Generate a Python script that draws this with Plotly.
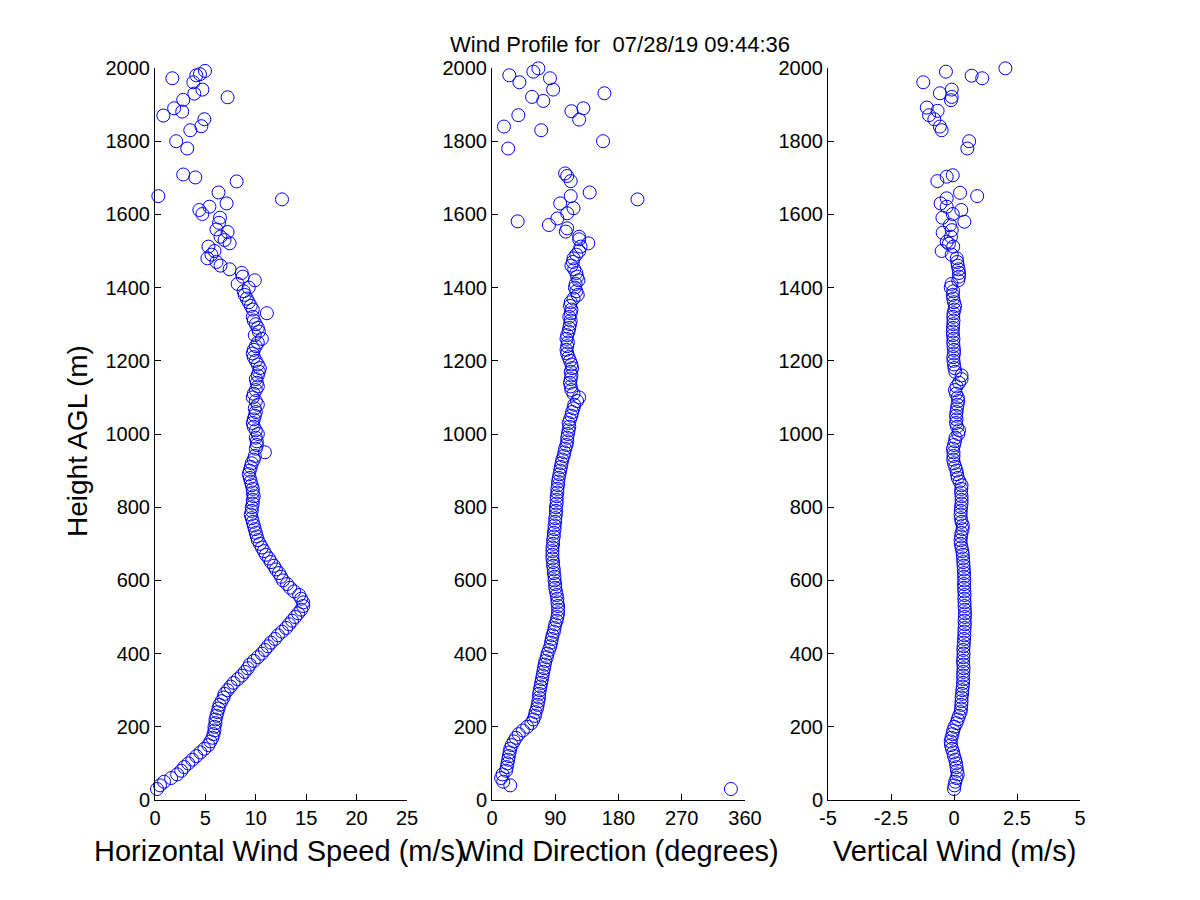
import plotly.graph_objects as go

# range-gate heights (m AGL) for the dense part of the profile
heights = [
    30, 40, 50, 60, 70, 80, 90, 100, 110, 120,
    130, 140, 150, 160, 170, 180, 190, 200, 210, 220,
    230, 240, 250, 260, 270, 280, 290, 300, 310, 320,
    330, 340, 350, 360, 370, 380, 390, 400, 410, 420,
    430, 440, 450, 460, 470, 480, 490, 500, 510, 520,
    530, 540, 550, 560, 570, 580, 590, 600, 610, 620,
    630, 640, 650, 660, 670, 680, 690, 700, 710, 720,
    730, 740, 750, 760, 770, 780, 790, 800, 810, 820,
    830, 840, 850, 860, 870, 880, 890, 900, 910, 920,
    930, 940, 950, 960, 970, 980, 990, 1000, 1010, 1020,
    1030, 1040, 1050, 1060, 1070, 1080, 1090, 1100, 1110, 1120,
    1130, 1140, 1150, 1160, 1170, 1180, 1190, 1200, 1210, 1220,
    1230, 1240, 1250, 1260, 1270, 1280, 1290, 1300, 1310, 1320,
    1330, 1340, 1350, 1360, 1370, 1380, 1390, 1400, 1410, 1420,
    1430, 1440, 1450, 1460, 1470, 1480, 1490, 1500,
]

# horizontal wind speed (m/s)
speed = [
    0.2, 0.5, 0.9, 1.6, 2.2, 2.6, 2.9, 3.3, 3.7, 4.1,
    4.5, 4.9, 5.3, 5.5, 5.7, 5.8, 5.9, 5.9, 6.0, 6.0,
    6.1, 6.2, 6.3, 6.4, 6.6, 6.8, 6.9, 7.2, 7.5, 7.8,
    8.2, 8.6, 8.9, 9.2, 9.4, 9.8, 10.2, 10.6, 10.9, 11.2,
    11.5, 11.9, 12.2, 12.6, 13.0, 13.3, 13.6, 13.9, 14.2, 14.5,
    14.7, 14.7, 14.5, 14.3, 13.8, 13.4, 13.1, 12.7, 12.5, 12.3,
    12.0, 11.8, 11.5, 11.3, 11.0, 10.8, 10.6, 10.4, 10.2, 10.1,
    10.0, 9.9, 9.8, 9.7, 9.6, 9.5, 9.6, 9.6, 9.7, 9.7,
    9.8, 9.7, 9.7, 9.6, 9.5, 9.4, 9.3, 9.4, 9.5, 9.6,
    9.8, 9.9, 10.9, 10.0, 10.1, 10.1, 10.0, 10.2, 10.0, 9.8,
    9.7, 9.8, 9.9, 10.0, 9.9, 10.2, 10.0, 9.7, 9.8, 10.0,
    10.2, 10.1, 10.0, 10.2, 10.3, 10.4, 10.2, 10.0, 9.8, 9.7,
    9.8, 10.0, 10.2, 10.6, 9.9, 10.3, 10.2, 10.0, 9.8, 9.7,
    11.1, 9.7, 9.5, 9.3, 9.1, 8.9, 8.8, 9.3, 8.2, 9.9,
    8.7, 8.6, 7.4, 6.5, 6.1, 5.2, 5.6, 5.9,
]

# wind direction (degrees)
direction = [
    340, 26, 16, 13, 15, 20, 21, 22, 23, 24,
    25, 26, 28, 31, 34, 38, 44, 50, 56, 59,
    61, 62, 64, 65, 66, 67, 67, 68, 69, 70,
    71, 72, 73, 74, 75, 76, 78, 79, 81, 83,
    84, 85, 86, 88, 89, 90, 92, 93, 94, 94,
    94, 93, 93, 92, 91, 90, 90, 89, 89, 88,
    88, 87, 87, 86, 86, 86, 86, 87, 87, 88,
    88, 89, 89, 90, 90, 91, 91, 91, 92, 92,
    92, 93, 93, 94, 94, 95, 96, 97, 98, 99,
    100, 102, 103, 104, 106, 107, 107, 108, 109, 110,
    109, 111, 113, 114, 116, 117, 121, 124, 116, 113,
    112, 111, 112, 113, 112, 114, 113, 111, 109, 107,
    106, 107, 108, 106, 107, 109, 110, 111, 112, 110,
    112, 113, 111, 112, 116, 122, 120, 118, 119, 123,
    121, 120, 117, 113, 115, 116, 120, 124,
]

# vertical wind (m/s)
vertical = [
    0.0, 0.02, 0.05, 0.1, 0.15, 0.12, 0.1, 0.08, 0.05, 0.0,
    -0.03, -0.08, -0.12, -0.13, -0.1, -0.06, -0.03, 0.02, 0.1, 0.15,
    0.2, 0.26, 0.28, 0.29, 0.3, 0.3, 0.32, 0.33, 0.35, 0.36,
    0.37, 0.36, 0.37, 0.38, 0.37, 0.36, 0.37, 0.38, 0.37, 0.38,
    0.39, 0.4, 0.41, 0.41, 0.42, 0.43, 0.42, 0.43, 0.44, 0.43,
    0.42, 0.42, 0.41, 0.42, 0.41, 0.4, 0.4, 0.41, 0.4, 0.4,
    0.39, 0.38, 0.37, 0.36, 0.35, 0.33, 0.3, 0.27, 0.26, 0.28,
    0.3, 0.34, 0.35, 0.3, 0.27, 0.26, 0.27, 0.28, 0.3, 0.3,
    0.3, 0.28, 0.29, 0.3, 0.22, 0.15, 0.12, 0.1, 0.05, 0.0,
    -0.03, -0.02, -0.02, -0.04, 0.0, 0.04, 0.06, 0.17, 0.2, 0.12,
    0.08, 0.1, 0.08, 0.1, 0.12, 0.14, 0.17, 0.15, 0.08, 0.04,
    0.1, 0.2, 0.3, 0.3, 0.05, 0.02, 0.0, -0.02, -0.03, 0.0,
    0.0, -0.02, -0.03, -0.02, -0.04, -0.05, -0.04, -0.03, -0.02, -0.03,
    -0.02, 0.02, 0.04, 0.0, -0.03, -0.05, -0.03, -0.13, -0.1, 0.17,
    0.2, 0.2, 0.18, 0.15, 0.13, 0.11, -0.09, -0.49,
]

# noisy points above 1500 m (each panel keeps its own valid gates)
speed_upper_h = [1512, 1521, 1530, 1539, 1552, 1559, 1577, 1591, 1601, 1612,
                 1621, 1630, 1641, 1650, 1660, 1690, 1701, 1709, 1780, 1800,
                 1830, 1841, 1860, 1870, 1881, 1890, 1913, 1920, 1930, 1941,
                 1961, 1972, 1980, 1983, 1992]
speed_upper = [5.3, 7.4, 6.9, 6.5, 7.2, 6.1, 6.35, 6.45, 4.7, 4.4,
               5.4, 7.1, 12.6, 0.33, 6.3, 8.1, 4.0, 2.8, 3.2, 2.1,
               3.5, 4.6, 4.9, 0.83, 2.7, 1.9, 2.8, 7.2, 3.9, 4.7,
               3.8, 1.72, 4.1, 4.46, 4.96]

dir_upper_h = [1512, 1521, 1532, 1539, 1553, 1562, 1571, 1581, 1589, 1603,
               1617, 1630, 1641, 1650, 1660, 1691, 1705, 1712, 1780, 1800,
               1830, 1840, 1859, 1871, 1882, 1890, 1910, 1921, 1931, 1941,
               1961, 1972, 1980, 1990, 1999]
dir_upper = [126, 137, 124, 124, 105, 107, 81, 36.5, 93, 107,
             116, 97, 207, 112, 139, 112, 107, 104, 23, 158,
             70, 17, 124, 37.5, 113, 130, 73, 57, 160, 87,
             39, 82.5, 24.6, 58.8, 66]

w_upper_h = [1512, 1520, 1525, 1539, 1550, 1557, 1571, 1580, 1591, 1601,
             1612, 1621, 1630, 1644, 1650, 1659, 1691, 1703, 1707, 1780,
             1800, 1830, 1840, 1860, 1871, 1883, 1892, 1912, 1921, 1931,
             1941, 1961, 1972, 1979, 1990, 1999]
w_upper = [-0.03, -0.2, -0.29, -0.12, -0.45, -0.09, -0.16, 0.41, -0.46, -0.05,
           0.29, -0.29, -0.53, -0.29, 0.92, 0.24, -0.66, -0.29, -0.05, 0.53,
           0.6, -0.49, -0.56, -0.78, -0.99, -0.65, -1.08, -0.12, -0.09, -0.56,
           -0.09, -1.22, 1.12, 0.7, -0.32, 2.04]

FONT = "Liberation Sans, Arial, Helvetica, sans-serif"
BLUE = "rgb(0,0,255)"
W, H = 1200, 900
OFF = 8  # page body margin pushes the figure right/down by this much


def px(x):
    return (x - OFF) / W


def py(y):
    return 1 - (y - OFF) / H


marker = dict(symbol="circle-open", size=13, color=BLUE, line=dict(width=1, color=BLUE))

fig = go.Figure()
panels = [
    (speed + speed_upper, heights + speed_upper_h, "x", "y"),
    (direction + dir_upper, heights + dir_upper_h, "x2", "y2"),
    (vertical + w_upper, heights + w_upper_h, "x3", "y3"),
]
for xs, ys, xa, ya in panels:
    fig.add_trace(go.Scatter(x=xs, y=ys, mode="markers", marker=marker,
                             xaxis=xa, yaxis=ya, cliponaxis=False,
                             showlegend=False, hoverinfo="x+y"))

axis_common = dict(showline=True, linecolor="black", linewidth=1, ticks="inside",
                   ticklen=6, tickcolor="black", showgrid=False, zeroline=False,
                   tickfont=dict(family=FONT, size=20, color="black"), mirror=False,
                   automargin=False)

x_domains = [[px(155), px(407)], [px(492), px(745)], [px(828), px(1080)]]
y_domain = [py(800), py(68)]

x_ranges = [[0, 25], [0, 360], [-5, 5]]
x_ticks = [
    ([0, 5, 10, 15, 20, 25], ["0", "5", "10", "15", "20", "25"]),
    ([0, 90, 180, 270, 360], ["0", "90", "180", "270", "360"]),
    ([-5, -2.5, 0, 2.5, 5], ["-5", "-2.5", "0", "2.5", "5"]),
]
y_ticks = [0, 200, 400, 600, 800, 1000, 1200, 1400, 1600, 1800, 2000]

layout = dict(
    width=W, height=H, autosize=False,
    paper_bgcolor="white", plot_bgcolor="white",
    margin=dict(l=0, r=0, t=0, b=0, pad=0, autoexpand=False),
    font=dict(family=FONT, color="black"),
)
for i in range(3):
    sfx = "" if i == 0 else str(i + 1)
    layout["xaxis" + sfx] = dict(axis_common, domain=x_domains[i], range=x_ranges[i],
                                 tickvals=x_ticks[i][0], ticktext=x_ticks[i][1],
                                 anchor="y" + sfx)
    layout["yaxis" + sfx] = dict(axis_common, domain=y_domain, range=[0, 2000],
                                 tickvals=y_ticks, anchor="x" + sfx)
fig.update_layout(**layout)

titles = ["Horizontal Wind Speed (m/s)", "Wind Direction (degrees)", "Vertical Wind (m/s)"]
title_centres = [279, 618, 954]
for t, cx in zip(titles, title_centres):
    fig.add_annotation(text=t, xref="paper", yref="paper",
                       x=px(cx), y=py(851),
                       xanchor="center", yanchor="middle", showarrow=False,
                       font=dict(family=FONT, size=29, color="black"))

fig.add_annotation(text="Height AGL (m)", xref="paper", yref="paper",
                   x=px(78), y=py(441), textangle=-90,
                   xanchor="center", yanchor="middle", showarrow=False,
                   font=dict(family=FONT, size=28, color="black"))

fig.add_annotation(text="Wind Profile for  07/28/19 09:44:36", xref="paper", yref="paper",
                   x=px(620), y=py(44), xanchor="center", yanchor="middle",
                   showarrow=False, font=dict(family=FONT, size=22, color="black"))

fig.write_html("out.html", config={"responsive": False})
